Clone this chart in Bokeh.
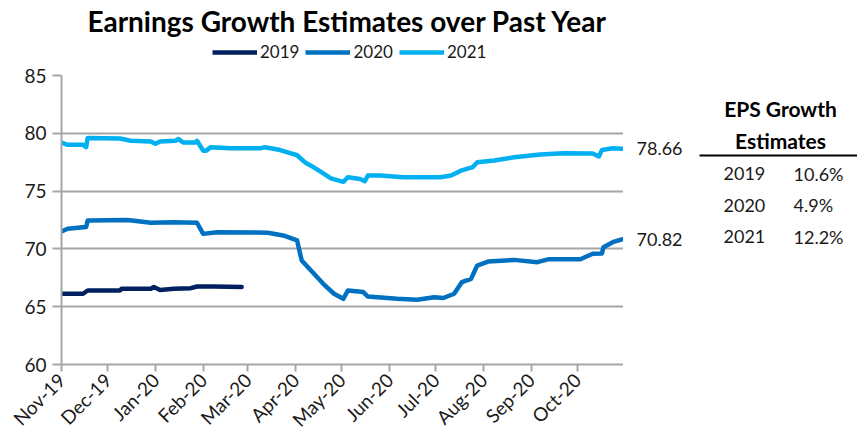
import math
import pandas as pd
from bokeh.plotting import figure
from bokeh.layouts import row, column
from bokeh.models import (Range1d, FixedTicker, DatetimeTickFormatter, Legend,
                          LegendItem)
from bokeh.core.properties import value
from bokeh.embed import file_html
from bokeh.resources import INLINE

# ---------------- data ----------------
dates_2019 = ["2019-11-01", "2019-11-15", "2019-11-18", "2019-12-09", "2019-12-10",
              "2019-12-29", "2019-12-31", "2020-01-04", "2020-01-13", "2020-01-24",
              "2020-01-28", "2020-02-08", "2020-02-26"]
vals_2019 = [66.12, 66.12, 66.40, 66.40, 66.55, 66.55, 66.70, 66.45, 66.55, 66.60,
             66.75, 66.75, 66.70]

dates_2020 = ["2019-11-01", "2019-11-05", "2019-11-15", "2019-11-17", "2019-11-18",
              "2019-12-14", "2019-12-29", "2020-01-13", "2020-01-28", "2020-02-01",
              "2020-02-10", "2020-03-14", "2020-03-24", "2020-04-02", "2020-04-05",
              "2020-04-13", "2020-04-19", "2020-04-26", "2020-05-02", "2020-05-05",
              "2020-05-15", "2020-05-18", "2020-06-06", "2020-06-19", "2020-06-30",
              "2020-07-06", "2020-07-13", "2020-07-18", "2020-07-24", "2020-07-28",
              "2020-08-04", "2020-08-21", "2020-09-05", "2020-09-12", "2020-10-03",
              "2020-10-11", "2020-10-17", "2020-10-18", "2020-10-24", "2020-10-30"]
vals_2020 = [71.50, 71.74, 71.88, 71.90, 72.46, 72.50, 72.26, 72.30, 72.26, 71.30,
             71.44, 71.40, 71.16, 70.73, 69.00, 67.85, 66.98, 66.12, 65.68, 66.40,
             66.27, 65.88, 65.68, 65.60, 65.82, 65.75, 66.12, 67.12, 67.41, 68.56,
             68.90, 69.05, 68.85, 69.10, 69.10, 69.58, 69.60, 70.15, 70.58, 70.82]

dates_2021 = ["2019-11-01", "2019-11-05", "2019-11-15", "2019-11-17", "2019-11-18",
              "2019-12-09", "2019-12-16", "2019-12-29", "2020-01-01", "2020-01-04",
              "2020-01-14", "2020-01-16", "2020-01-19", "2020-01-27", "2020-01-28",
              "2020-02-01", "2020-02-03", "2020-02-06", "2020-02-19", "2020-03-09",
              "2020-03-12", "2020-03-16", "2020-03-22", "2020-03-28", "2020-04-02",
              "2020-04-07", "2020-04-11", "2020-04-17", "2020-04-24", "2020-05-02",
              "2020-05-05", "2020-05-13", "2020-05-16", "2020-05-18", "2020-05-26",
              "2020-06-10", "2020-07-04", "2020-07-11", "2020-07-18", "2020-07-25",
              "2020-07-28", "2020-08-08", "2020-08-21", "2020-09-07", "2020-09-22",
              "2020-10-11", "2020-10-15", "2020-10-17", "2020-10-24", "2020-10-30"]
vals_2021 = [79.20, 79.00, 79.00, 78.80, 79.60, 79.55, 79.35, 79.30, 79.10, 79.30,
             79.35, 79.50, 79.20, 79.20, 79.35, 78.50, 78.50, 78.80, 78.70, 78.70,
             78.80, 78.70, 78.55, 78.30, 78.10, 77.50, 77.20, 76.70, 76.10, 75.80,
             76.20, 76.05, 75.85, 76.35, 76.35, 76.20, 76.20, 76.35, 76.80, 77.07,
             77.50, 77.65, 77.93, 78.17, 78.28, 78.25, 78.00, 78.55, 78.70, 78.66]

series_names = ["2019", "2020", "2021"]
series_colors = ["#002060", "#0070C0", "#00B0F0"]

title_text = "Earnings Growth Estimates over Past Year"
y_ticks = [60, 65, 70, 75, 80, 85]
month_ticks = ["2019-11-01", "2019-12-01", "2020-01-01", "2020-02-01", "2020-03-01",
               "2020-04-01", "2020-05-01", "2020-06-01", "2020-07-01", "2020-08-01",
               "2020-09-01", "2020-10-01"]
axis_start = "2019-11-01"
axis_end = "2020-10-31"

end_labels = ["78.66", "70.82"]
table_title = ["EPS Growth", "Estimates"]
table_years = ["2019", "2020", "2021"]
table_growth = ["10.6%", "4.9%", "12.2%"]

# ---------------- layout constants ----------------
FONT = "Lato"
TXT = "#1a1a1a"
GRID = "#a6a6a6"
W, TOTAL_H = 857, 442
HEAD_H = 62
BL, BT, BB = 61, 13, 78
FW = 562
SIDE_W = W - BL - FW
H = TOTAL_H - HEAD_H
FH = H - BT - BB
LW = 4.5

def ms(lst):
    return (pd.to_datetime(lst).astype("int64") // 10**6).tolist()

# ---------------- header: title + legend ----------------
hd = figure(width=W, height=HEAD_H, output_backend="svg", toolbar_location=None,
            x_range=Range1d(0, W), y_range=Range1d(0, HEAD_H),
            x_axis_location=None, y_axis_location=None, min_border=0)
hd.outline_line_color = None
hd.xgrid.grid_line_color = None
hd.ygrid.grid_line_color = None
hd.text(x=[347], y=[HEAD_H - 20], text=[title_text],
        text_align="center", text_baseline="alphabetic", text_font=value(FONT),
        text_font_size="28px", text_font_style="bold", text_color="#000000")
# off-screen stubs so the legend can show each series' line style
legend_renderers = [hd.line(x=[-50, -40], y=[-50, -50], line_color=c,
                            line_width=LW) for c in series_colors]
legend = Legend(items=[LegendItem(label=n, renderers=[r])
                       for n, r in zip(series_names, legend_renderers)],
                orientation="horizontal", location=(212, 0),
                label_text_font=FONT, label_text_font_size="17px",
                label_text_color=TXT, glyph_width=45, glyph_height=18,
                label_standoff=3, spacing=6, padding=0, margin=0,
                border_line_alpha=0, background_fill_alpha=0)
hd.add_layout(legend)

# ---------------- main chart ----------------
p = figure(x_axis_type="datetime", width=BL + FW, height=H,
           output_backend="svg", toolbar_location=None,
           x_range=Range1d(pd.Timestamp(axis_start), pd.Timestamp(axis_end)),
           y_range=Range1d(y_ticks[0], y_ticks[-1]),
           min_border_left=BL, min_border_right=0, min_border_top=BT,
           min_border_bottom=BB)
p.outline_line_color = None

for d, v, c in zip([dates_2019, dates_2020, dates_2021],
                   [vals_2019, vals_2020, vals_2021], series_colors):
    p.line(pd.to_datetime(d), v, line_color=c, line_width=LW,
           line_join="round", line_cap="round")

p.xgrid.grid_line_color = None
p.ygrid.grid_line_color = GRID
p.ygrid.grid_line_width = 2
p.yaxis.ticker = FixedTicker(ticks=y_ticks)
p.xaxis.ticker = FixedTicker(ticks=ms(month_ticks))
p.xaxis.formatter = DatetimeTickFormatter(months="%b-%y", days="%b-%y")
for ax in (p.xaxis[0], p.yaxis[0]):
    ax.axis_line_color = GRID
    ax.axis_line_width = 2
    ax.major_tick_line_color = GRID
    ax.major_tick_line_width = 2
    ax.minor_tick_line_color = None
    ax.major_tick_in = 0
    ax.major_label_text_font = FONT
    ax.major_label_text_font_size = "19px"
    ax.major_label_text_color = TXT
p.xaxis.major_tick_out = 7
p.yaxis.major_tick_out = 9
p.xaxis.major_label_orientation = math.pi / 4
p.yaxis.major_label_standoff = 6

# ---------------- side panel (end labels + table) ----------------
s = figure(width=SIDE_W, height=H, output_backend="svg", toolbar_location=None,
           x_range=Range1d(0, SIDE_W), y_range=p.y_range,
           x_axis_location=None, y_axis_location=None,
           min_border_left=0, min_border_right=0, min_border_top=BT,
           min_border_bottom=BB)
s.outline_line_color = None
s.xgrid.grid_line_color = None
s.ygrid.grid_line_color = None

def y_at(px):
    return y_ticks[-1] - px / FH * (y_ticks[-1] - y_ticks[0])

s.text(x=[13, 13], y=[vals_2021[-1], vals_2020[-1]], text=end_labels,
       text_baseline="middle", text_font=value(FONT), text_font_size="18px",
       text_color=TXT)
s.text(x=[157, 157], y=[y_at(33), y_at(65)], text=table_title,
       text_align="center", text_baseline="middle", text_font=value(FONT),
       text_font_size="21px", text_font_style="bold", text_color="#000000")
row_y = [y_at(98 + 31.5 * i) for i in range(len(table_years))]
s.text(x=[100] * len(table_years), y=row_y, text=table_years,
       text_baseline="middle", text_font=value(FONT), text_font_size="18px",
       text_color=TXT)
s.text(x=[170] * len(table_growth), y=row_y, text=table_growth,
       text_baseline="middle", text_font=value(FONT), text_font_size="18px",
       text_color=TXT)
s.segment(x0=[76], y0=[y_at(80)], x1=[SIDE_W], y1=[y_at(80)],
          line_color="#000000", line_width=2)

layout = column(hd, row(p, s, spacing=0), spacing=0)
open("out.html", "w").write(file_html(layout, INLINE))
